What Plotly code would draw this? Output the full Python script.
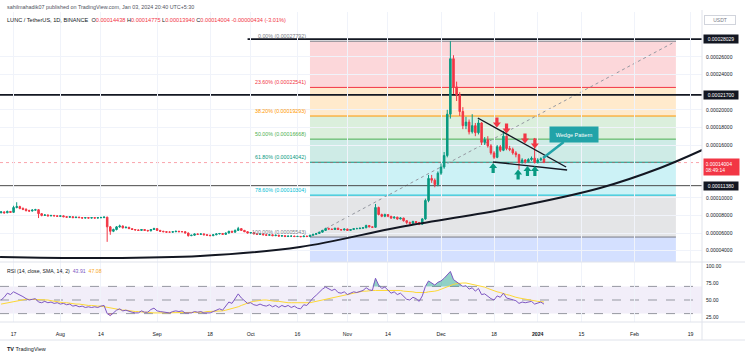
import pandas as pd
import numpy as np
import plotly.graph_objects as go

# ---------------- data ----------------
START = "2023-07-13"
close_e8 = [8400, 8300, 8450, 8350, 8900, 9000, 8800, 8700, 8550, 8500,
            8600, 8650, 8200, 8000, 8050, 7950, 8000, 7950, 7900, 7950,
            7850, 7800, 7850, 7750, 7800, 7750, 7700, 7750, 7700, 7750,
            7700, 7750, 7750, 7800, 6700, 6200, 6400, 6700, 6800, 6600,
            6650, 6500, 6400, 6350, 6300, 6400, 6300, 6250, 6400, 6500,
            6300, 6200, 6150, 6100, 6100, 6150, 6200, 6150, 6150, 6000,
            5700, 5750, 5900, 5850, 5900, 5800, 5750, 5700, 5800, 5900,
            5950, 5850, 6000, 6200, 6100, 6300, 6500, 6300, 6150, 6000,
            6050, 5900, 5850, 5900, 5800, 5750, 5800, 5700, 5750, 5650,
            5700, 5600, 5650, 5650, 5600, 5620, 5580, 5650, 5600, 5750,
            5850, 5950, 6100, 6300, 6500, 6450, 6400, 6550, 6400, 6350,
            6450, 6300, 6400, 6500, 6500, 6550, 6600, 6850, 6700, 6650,
            8900, 8100, 7900, 8100, 7900, 7700, 7800, 7600, 7700, 7400,
            7200, 7100, 7300, 7200, 7000, 7600, 9700, 12200, 12000, 11500,
            12800, 13500, 14800, 19500, 25800, 22600, 21700, 19800, 18200, 18600,
            17500, 18200, 17400, 18500, 16300, 16600, 15900, 15100, 14600, 15800,
            15400, 17000, 15600, 15500, 15100, 14900, 14000, 14300, 14100, 14350,
            14500, 14000, 14300, 14438, 14004]
high_e8 = [8500, 8450, 8550, 8500, 9100, 9500, 9100, 8900, 8800, 8650,
           8700, 8750, 8700, 8250, 8150, 8100, 8050, 8050, 8000, 8000,
           8000, 7900, 7900, 7900, 7850, 7850, 7800, 7800, 7800, 7800,
           7800, 7800, 7850, 7900, 7850, 6800, 6500, 6800, 6950, 6850,
           6750, 6700, 6550, 6450, 6400, 6450, 6450, 6350, 6450, 6600,
           6550, 6350, 6250, 6200, 6200, 6200, 6250, 6250, 6200, 6200,
           6050, 5800, 5950, 5950, 5950, 5950, 5850, 5800, 5850, 5950,
           6000, 6000, 6050, 6250, 6250, 6400, 6700, 6550, 6350, 6200,
           6100, 6100, 5950, 5950, 5950, 5850, 5850, 5850, 5800, 5800,
           5750, 5750, 5700, 5700, 5700, 5680, 5650, 5700, 5700, 5800,
           5900, 6000, 6150, 6350, 6600, 6600, 6500, 6600, 6600, 6450,
           6500, 6500, 6450, 6550, 6600, 6600, 6650, 6950, 6900, 6750,
           9300, 9000, 8200, 8200, 8150, 7950, 7900, 7850, 7800, 7750,
           7450, 7300, 7400, 7350, 7250, 7700, 9900, 12600, 12600, 12200,
           13000, 13900, 15200, 20000, 27792, 26200, 23200, 22000, 20300, 19200,
           18900, 19500, 18500, 18900, 18600, 16900, 17000, 16100, 15300, 16000,
           16000, 17600, 17100, 15900, 15700, 15300, 15000, 14500, 14400, 14500,
           14700, 16800, 14500, 14600, 14775]
low_e8 = [8250, 8200, 8250, 8300, 8300, 8800, 8700, 8600, 8450, 8400,
          8450, 8550, 7700, 7900, 7950, 7900, 7900, 7900, 7850, 7850,
          7800, 7750, 7750, 7700, 7700, 7700, 7650, 7650, 7650, 7650,
          7650, 7650, 7700, 7700, 5000, 5800, 6100, 6300, 6600, 6500,
          6550, 6450, 6350, 6300, 6250, 6250, 6250, 6200, 6200, 6350,
          6250, 6150, 6100, 6050, 6050, 6050, 6100, 6100, 6100, 5950,
          5600, 5650, 5700, 5800, 5800, 5750, 5700, 5650, 5650, 5750,
          5850, 5800, 5800, 5950, 6050, 6050, 6250, 6250, 6100, 5950,
          5950, 5850, 5800, 5800, 5750, 5700, 5700, 5650, 5650, 5600,
          5600, 5580, 5580, 5580, 5570, 5560, 5550, 5560, 5545, 5543,
          5700, 5800, 5900, 6050, 6250, 6400, 6350, 6350, 6350, 6300,
          6300, 6250, 6250, 6350, 6450, 6450, 6500, 6550, 6650, 6600,
          6600, 8000, 7800, 7800, 7800, 7600, 7650, 7500, 7550, 7300,
          7000, 6950, 7050, 7100, 6900, 6950, 7500, 9500, 11700, 11200,
          11300, 12600, 13300, 14600, 19000, 21800, 21000, 19300, 17800, 17800,
          17200, 17300, 17000, 17200, 16000, 16000, 15700, 14900, 14400, 14500,
          15200, 15300, 15400, 15300, 14900, 14600, 13200, 13900, 13900, 14000,
          14200, 13900, 13900, 14200, 13940]
first_open_e8 = 8300

rsi = [50, 54, 60, 58, 62, 60, 57, 55, 52, 50,
       51, 52, 47, 46, 48, 46, 47, 45, 46, 44,
       45, 43, 44, 41, 42, 40, 41, 39, 40, 39,
       40, 39, 41, 42, 30, 27, 31, 35, 37, 34,
       35, 33, 32, 31, 31, 34, 32, 32, 36, 38,
       34, 33, 32, 31, 31, 33, 34, 33, 34, 31,
       30.5, 31, 33, 32, 33, 31, 31, 31, 33, 35,
       37, 35, 41, 47, 45, 52, 59, 53, 49, 45,
       46, 43, 42, 44, 42, 41, 43, 40, 42, 39,
       42, 40, 42, 39, 41, 38, 37, 43, 42, 48,
       53, 57, 62, 66, 69, 67, 64, 66, 61, 60,
       62, 58, 60, 62, 61, 63, 64, 68, 65, 64,
       82, 72, 67, 69, 64, 60, 62, 58, 60, 55,
       51, 50, 54, 52, 48, 56, 70, 78, 75, 72,
       76, 78, 82, 87, 92, 80, 77, 73, 70, 71,
       66, 68, 63, 67, 58, 59, 55, 52, 50, 56,
       54, 60, 53, 52, 50, 49, 45, 47, 46, 47,
       48, 44, 46, 47, 43.91]
rsi_sma = [44, 45, 46, 47, 48, 49, 50, 50, 51, 51,
           51, 51, 51, 50, 50, 50, 49, 48, 48, 47,
           46, 46, 45, 45, 44, 44, 43, 43, 42, 42,
           41, 41, 41, 40, 39, 38, 37, 37, 36, 35,
           35, 34, 34, 33, 33, 32, 32, 32, 31, 31,
           31, 31, 31, 32, 32, 32, 32, 32, 32, 32,
           32, 32, 32, 32, 32, 32, 33, 33, 33, 33,
           34, 34, 35, 36, 37, 38, 40, 42, 44, 46,
           47, 48, 49, 49, 50, 50, 49, 49, 48, 48,
           47, 47, 46, 46, 46, 45, 45, 45, 46, 46,
           47, 48, 50, 51, 52, 53, 54, 55, 56, 57,
           58, 59, 60, 61, 62, 62, 63, 63, 64, 64,
           64, 64, 64, 65, 65, 65, 64, 64, 64, 63,
           63, 62, 62, 61, 61, 60, 61, 62, 62, 63,
           64, 66, 68, 70, 72, 73, 74, 75, 75, 75,
           74, 74, 73, 72, 70, 69, 67, 65, 64, 62,
           61, 59, 58, 57, 55, 54, 53, 52, 51, 50,
           49, 48, 48, 47.5, 47.08]

# Fibonacci retracement drawing
fib_start, fib_end = "2023-10-20", "2024-02-14 07:00"
fib_high, fib_low = 0.00027792, 0.00005543
fib_levels = [0, 0.236, 0.382, 0.5, 0.618, 0.786, 1, 1.618]
fib_colors = ["#787b86", "#f23645", "#ff9800", "#4caf50", "#089981", "#00bcd4", "#787b86", "#2962ff"]

# horizontal levels
hlines = [("2023-09-30", 0.00028029, "#131722", 1.6),
          ("2023-07-10", 0.00021700, "#131722", 1.6),
          ("2023-07-10", 0.00011380, "#4a4a4a", 1.0)]
last_price = 0.00014004

# curved support
curve_x = ["2023-07-12 16:00", "2023-08-13 17:00", "2023-09-14 19:00", "2023-10-16 19:00",
           "2023-11-17 22:00", "2023-12-19 22:00", "2024-01-21", "2024-02-09 05:00", "2024-02-22 17:00"]
curve_y = [0.0000328, 0.0000316, 0.0000339, 0.0000441, 0.0000669, 0.0000862, 0.0001112, 0.0001339, 0.0001543]

# wedge trendlines
wedge_upper_x = ["2023-12-12 19:00", "2024-01-10 02:00"]
wedge_upper_y = [0.00019067, 0.00013501]
wedge_lower_x = ["2023-12-17 17:00", "2024-01-10 10:00"]
wedge_lower_y = [0.00014069, 0.00013160]

# arrows
red_arrow_x = ["2023-12-18 22:00", "2023-12-22", "2023-12-27 22:00", "2023-12-31 02:00"]
red_arrow_y = [0.00018556, 0.00017874, 0.00016738, 0.00016170]
green_arrow_x = ["2023-12-17 17:00", "2023-12-25 17:00", "2023-12-28 17:00", "2023-12-31 02:00"]
green_arrow_y = [0.00013387, 0.00012649, 0.00013046, 0.00013046]

callout_x, callout_y = "2024-01-02 17:00", 0.00014523

tick_dates = ["2023-07-17", "2023-08-01", "2023-08-14", "2023-09-01", "2023-09-18", "2023-10-01",
              "2023-10-16", "2023-11-01", "2023-11-14", "2023-12-01", "2023-12-18", "2024-01-01",
              "2024-01-15", "2024-02-01", "2024-02-19"]
tick_text = ["17", "Aug", "14", "Sep", "18", "Oct", "16", "Nov", "14", "Dec", "18", "<b>2024</b>",
             "15", "Feb", "19"]
# (0.00012, 0.00014, 0.00022, 0.00028 sit behind the price-scale labels)
price_ticks = [0.00004, 0.00006, 0.00008, 0.00010, 0.00016, 0.00018,
               0.00020, 0.00024, 0.00026]

# ---------------- build ----------------
W, H = 745, 358
FONT = "Liberation Sans"
dates = pd.date_range(START, periods=len(close_e8), freq="D")
open_e8 = [first_open_e8] + close_e8[:-1]
s = 1e-8
o = [v * s for v in open_e8]
h = [v * s for v in high_e8]
l = [v * s for v in low_e8]
c = [v * s for v in close_e8]

x_right_px = 702
xdom = [0, x_right_px / W]
main_dom = [(H - 262) / H, (H - 12) / H]
rsi_dom = [(H - 322) / H, (H - 262) / H]
x_range = ["2023-07-12 15:36", "2024-02-22 15:36"]

fig = go.Figure()

fig.add_trace(go.Candlestick(
    x=dates, open=o, high=h, low=l, close=c, xaxis="x", yaxis="y",
    increasing=dict(line=dict(color="#089981", width=1), fillcolor="#089981"),
    decreasing=dict(line=dict(color="#f23645", width=1), fillcolor="#f23645"),
    whiskerwidth=0, showlegend=False, hoverinfo="skip"))

fig.add_trace(go.Scatter(x=curve_x, y=curve_y, mode="lines", line=dict(color="#131722", width=2, shape="spline"),
                         xaxis="x", yaxis="y", showlegend=False, hoverinfo="skip"))
for wx, wy in [(wedge_upper_x, wedge_upper_y), (wedge_lower_x, wedge_lower_y)]:
    fig.add_trace(go.Scatter(x=wx, y=wy, mode="lines", line=dict(color="#131722", width=1.4),
                             xaxis="x", yaxis="y", showlegend=False, hoverinfo="skip"))

# RSI pane
rsi_arr = np.array(rsi, dtype=float)
fig.add_trace(go.Scatter(x=dates, y=[70] * len(dates), mode="lines", line=dict(width=0),
                         xaxis="x2", yaxis="y2", showlegend=False, hoverinfo="skip"))
fig.add_trace(go.Scatter(x=dates, y=np.maximum(rsi_arr, 70), mode="lines", line=dict(width=0),
                         fill="tonexty", fillcolor="rgba(8,153,129,0.45)",
                         xaxis="x2", yaxis="y2", showlegend=False, hoverinfo="skip"))
fig.add_trace(go.Scatter(x=dates, y=[30] * len(dates), mode="lines", line=dict(width=0),
                         xaxis="x2", yaxis="y2", showlegend=False, hoverinfo="skip"))
fig.add_trace(go.Scatter(x=dates, y=np.minimum(rsi_arr, 30), mode="lines", line=dict(width=0),
                         fill="tonexty", fillcolor="rgba(242,54,69,0.35)",
                         xaxis="x2", yaxis="y2", showlegend=False, hoverinfo="skip"))
fig.add_trace(go.Scatter(x=dates, y=rsi_sma, mode="lines", line=dict(color="#fdd835", width=1),
                         xaxis="x2", yaxis="y2", showlegend=False, hoverinfo="skip"))
fig.add_trace(go.Scatter(x=dates, y=rsi, mode="lines", line=dict(color="#7e57c2", width=1),
                         xaxis="x2", yaxis="y2", showlegend=False, hoverinfo="skip"))

shapes = []
annotations = []


def rgba(hexc, a):
    hexc = hexc.lstrip("#")
    r, g, b = int(hexc[0:2], 16), int(hexc[2:4], 16), int(hexc[4:6], 16)
    return f"rgba({r},{g},{b},{a})"


rng = fib_high - fib_low
fib_prices = [fib_high - lv * rng for lv in fib_levels]
for i in range(1, len(fib_levels)):
    shapes.append(dict(type="rect", xref="x", yref="y", x0=fib_start, x1=fib_end,
                       y0=fib_prices[i - 1], y1=fib_prices[i], line=dict(width=0),
                       fillcolor=rgba(fib_colors[i], 0.2), layer="below"))
for i, lv in enumerate(fib_levels[:-1]):
    shapes.append(dict(type="line", xref="x", yref="y", x0=fib_start, x1=fib_end,
                       y0=fib_prices[i], y1=fib_prices[i], line=dict(color=fib_colors[i], width=1),
                       layer="below"))
    annotations.append(dict(x=fib_start, y=fib_prices[i], xref="x", yref="y", xanchor="right",
                            yanchor="bottom", showarrow=False, xshift=-2, yshift=0,
                            text=f"{lv * 100:.2f}% ({fib_prices[i]:.8f})",
                            font=dict(family=FONT, size=5.3, color=fib_colors[i])))
# fib diagonal
shapes.append(dict(type="line", xref="x", yref="y", x0=fib_start, x1=fib_end, y0=fib_low, y1=fib_high,
                   line=dict(color="#9598a1", width=1, dash="dot"), layer="below"))

# horizontal rays
for x0, yv, col, wd in hlines:
    shapes.append(dict(type="line", xref="x", yref="y", x0=x0, x1=x_range[1], y0=yv, y1=yv,
                       line=dict(color=col, width=wd), layer="below"))
    annotations.append(dict(x=(x_right_px + 1) / W, y=yv, xref="paper", yref="y", xanchor="left",
                            yanchor="middle", showarrow=False, text=f"{yv:.8f}",
                            font=dict(family=FONT, size=5, color="white"), bgcolor="#131722",
                            borderpad=1, width=32))
# last price line
shapes.append(dict(type="line", xref="x", yref="y", x0=x_range[0], x1=x_range[1], y0=last_price, y1=last_price,
                   line=dict(color="rgba(242,54,69,0.45)", width=1, dash="dot"), layer="below"))
annotations.append(dict(x=(x_right_px + 1) / W, y=last_price, xref="paper", yref="y", xanchor="left",
                        yanchor="top", yshift=5, showarrow=False,
                        text=f"{last_price:.8f}<br>08:49:14",
                        font=dict(family=FONT, size=5, color="white"), bgcolor="#f23645",
                        borderpad=1.5, width=32, align="left"))

# arrows (pixel-sized paths anchored at data points)
down_path = "M -1.6 5 L 1.6 5 L 1.6 0 L 4 0 L 0 -5 L -4 0 L -1.6 0 Z"
up_path = "M -1.6 -5 L 1.6 -5 L 1.6 0 L 4 0 L 0 5 L -4 0 L -1.6 0 Z"
for ax_, ay_ in zip(red_arrow_x, red_arrow_y):
    shapes.append(dict(type="path", xref="x", yref="y", xsizemode="pixel", ysizemode="pixel",
                       xanchor=ax_, yanchor=ay_, path=down_path, fillcolor="#f23645",
                       line=dict(width=0), layer="above"))
for ax_, ay_ in zip(green_arrow_x, green_arrow_y):
    shapes.append(dict(type="path", xref="x", yref="y", xsizemode="pixel", ysizemode="pixel",
                       xanchor=ax_, yanchor=ay_, path=up_path, fillcolor="#089981",
                       line=dict(width=0), layer="above"))

# callout
annotations.append(dict(x=callout_x, y=callout_y, xref="x", yref="y", ax=31, ay=-24,
                        showarrow=True, arrowhead=0, arrowwidth=2.5, arrowcolor="#22a3a8",
                        text="Wedge Pattern", font=dict(family=FONT, size=5.5, color="white"),
                        bgcolor="#22a3a8", borderpad=3, width=42, height=9))

# RSI band and dashed lines
shapes.append(dict(type="rect", xref="x2", yref="y2", x0=x_range[0], x1=x_range[1], y0=30, y1=70,
                   fillcolor="rgba(126,87,194,0.1)", line=dict(width=0), layer="below"))
for lvv in [70, 50, 30]:
    shapes.append(dict(type="line", xref="x2", yref="y2", x0=x_range[0], x1=x_range[1], y0=lvv, y1=lvv,
                       line=dict(color="#9598a1", width=1, dash="dash"), layer="below"))

# borders
border = "#e0e3eb"
for yy in [262, 322, 340]:
    shapes.append(dict(type="line", xref="paper", yref="paper", x0=0, x1=1, y0=(H - yy) / H, y1=(H - yy) / H,
                       line=dict(color=border, width=1)))
shapes.append(dict(type="line", xref="paper", yref="paper", x0=x_right_px / W, x1=x_right_px / W,
                   y0=(H - 340) / H, y1=(H - 10) / H, line=dict(color=border, width=1)))

# header texts
annotations.append(dict(x=5 / W, y=(H - 7) / H, xref="paper", yref="paper", xanchor="left", yanchor="middle",
                        showarrow=False,
                        text="sahilmahadik07 published on TradingView.com, Jan 03, 2024 20:40 UTC+5:30",
                        font=dict(family=FONT, size=5.4, color="#50535e")))
red = "#f23645"
hdr2 = ("LUNC / TetherUS, 1D, BINANCE  O<span style='color:%s'>0.00014438</span> "
        "H<span style='color:%s'>0.00014775</span> L<span style='color:%s'>0.00013940</span> "
        "C<span style='color:%s'>0.00014004</span> <span style='color:%s'>-0.00000434 (-3.01%%)</span>"
        % (red, red, red, red, red))
annotations.append(dict(x=5 / W, y=(H - 20) / H, xref="paper", yref="paper", xanchor="left", yanchor="middle",
                        showarrow=False, text=hdr2, font=dict(family=FONT, size=5.6, color="#131722")))
annotations.append(dict(x=(x_right_px + 18) / W, y=(H - 20) / H, xref="paper", yref="paper", xanchor="center",
                        yanchor="middle", showarrow=False, text="USDT",
                        font=dict(family=FONT, size=5, color="#787b86"), bgcolor="white",
                        bordercolor="#d1d4dc", borderwidth=1, borderpad=1, width=28))
annotations.append(dict(x=5 / W, y=(H - 271) / H, xref="paper", yref="paper", xanchor="left", yanchor="middle",
                        showarrow=False,
                        text="RSI (14, close, SMA, 14, 2)  <span style='color:#7e57c2'>43.91</span>  "
                             "<span style='color:#f9a825'>47.08</span>",
                        font=dict(family=FONT, size=5.2, color="#131722")))
annotations.append(dict(x=5 / W, y=(H - 349) / H, xref="paper", yref="paper", xanchor="left", yanchor="middle",
                        showarrow=False, text="<b>TV</b> TradingView",
                        font=dict(family=FONT, size=5.5, color="#131722")))

grid = "#f0f3fa"
fig.update_layout(
    width=W, height=H, margin=dict(l=0, r=0, t=0, b=0),
    paper_bgcolor="white", plot_bgcolor="white", showlegend=False,
    font=dict(family=FONT, size=5, color="#131722"),
    xaxis=dict(domain=xdom, anchor="y", range=x_range, type="date", rangeslider=dict(visible=False),
               tickvals=tick_dates, ticktext=tick_text, showticklabels=False, showgrid=True,
               gridcolor=grid, zeroline=False, showline=False),
    yaxis=dict(domain=main_dom, anchor="x", side="right", range=[0.00002709, 0.00031109],
               tickvals=price_ticks, tickformat=".8f", showgrid=True, gridcolor=grid, zeroline=False,
               ticks="", tickfont=dict(family=FONT, size=5, color="#131722"), ticklabelstandoff=3),
    xaxis2=dict(domain=xdom, anchor="y2", range=x_range, type="date", matches="x",
                tickvals=tick_dates, ticktext=tick_text, showgrid=True, gridcolor=grid, zeroline=False,
                ticks="outside", ticklen=7, tickcolor="rgba(0,0,0,0)",
                tickfont=dict(family=FONT, size=5.2, color="#131722")),
    yaxis2=dict(domain=rsi_dom, anchor="x2", side="right", range=[17.65, 105.88],
                tickvals=[100, 75, 50, 25], tickformat=".2f", showgrid=False, zeroline=False,
                ticks="", tickfont=dict(family=FONT, size=5, color="#131722"), ticklabelstandoff=3),
    shapes=shapes, annotations=annotations,
)

fig.write_html("out.html", config={"displayModeBar": False},
               post_script="document.body.style.margin='0';document.body.style.overflow='hidden';")
